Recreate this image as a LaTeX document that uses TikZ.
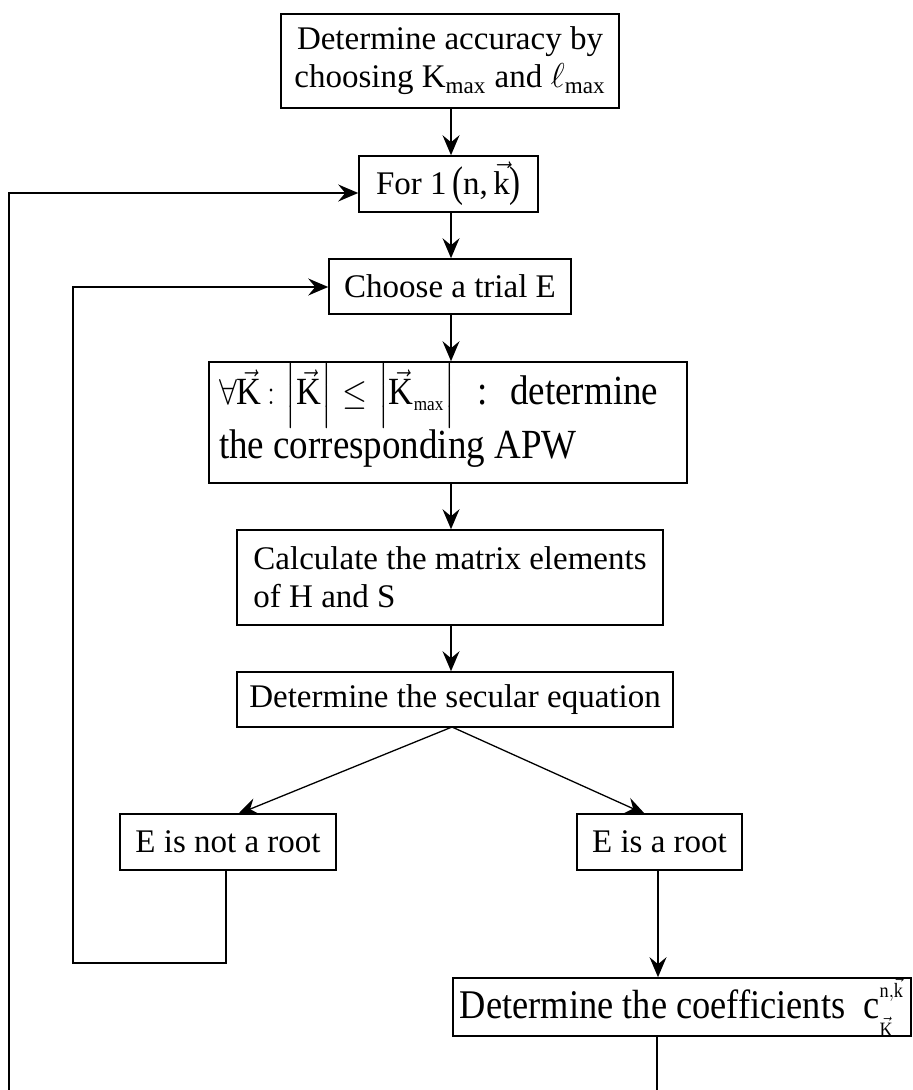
\documentclass[tikz,border=0pt]{standalone}
\usepackage{amsmath}
\usepackage{fontspec}
\setmainfont{Liberation Serif}
\usetikzlibrary{arrows.meta,calc}
\newcommand{\vK}{\vec{\text{K}}}
\newcommand{\bigpar}[1]{\raisebox{-0.07em}{\scalebox{1}[1.3]{#1}}}
\tikzset{
  box/.style={draw, line width=0.8pt, inner sep=0pt, font=\fontsize{16.5}{19}\selectfont},
  arr/.style={-{Stealth[length=10pt,width=8.5pt,inset=3.5pt]}, line width=0.65pt},
  plain/.style={line width=0.65pt}
}
\begin{document}
\begin{tikzpicture}[x=0.5pt,y=-0.5pt]
\useasboundingbox (0,0) rectangle (912,1090);

\node[box, minimum width=169pt, minimum height=47pt, align=center] (top) at (450,61)
  {Determine accuracy by\\choosing K$_{\text{max}}$ and $\ell_{\text{max}}$};
\node[box, minimum width=89.5pt, minimum height=28pt] (for) at (448.5,184)
  {For 1\,\bigpar{(}n,\,$\vec{\text{k}}$\bigpar{)}};
\node[box, minimum width=121pt, minimum height=27.5pt] (choose) at (450,286.5)
  {Choose a trial E};
\node[box, minimum width=239pt, minimum height=60.5pt, align=left,
      font=\fontsize{18.5}{26.5}\selectfont] (apw) at (448,422.5)
  {\makebox[229pt][l]{\rule{0pt}{9pt}\smash{\scalebox{1}[1.12]{\resizebox{118pt}{!}{$\forall\vK\,{:}\,\left|\vK\right|\,{\le}\,\left|\vK_{\scriptscriptstyle\text{max}}\right|$}\hspace{11pt}:\hspace{11.5pt}determine}}}\\
   \smash{\scalebox{1}[1.12]{the corresponding APW}}};
\node[box, minimum width=213pt, minimum height=47.5pt, align=left] (calc) at (450,577.5)
  {Calculate the matrix elements\\of H and S};
\node[box, minimum width=218pt, minimum height=27.5pt] (sec) at (455,699.5)
  {Determine the secular equation};
\node[box, minimum width=108pt, minimum height=28pt] (nr) at (228,842)
  {E is not a root};
\node[box, minimum width=82.5pt, minimum height=28pt] (rt) at (659.5,842)
  {E is a root};
\node[box, minimum width=229pt, minimum height=27pt, font=\fontsize{18.2}{20}\selectfont] (coef) at (682,1007)
  {\scalebox{1}[1.12]{Determine the coefficients\ \ $\text{c}^{\raisebox{3pt}{$\scriptscriptstyle\text{n},\vec{\text{k}}$}}_{\raisebox{-3.5pt}{$\scriptscriptstyle\vK$}}$}};

\coordinate (colM) at (451,0);
\coordinate (split) at (452,727);
\coordinate (nrIn) at (238,814);
\coordinate (rtIn) at (645,814);
\coordinate (colR) at (658,0);
\coordinate (L1) at (226,963);
\coordinate (L2) at (73,963);
\coordinate (L3) at (73,287);
\coordinate (O1) at (9,1090);
\coordinate (O2) at (9,193);
\coordinate (B1) at (657,1090);

\draw[arr] (top.south -| colM) -- (for.north -| colM);
\draw[arr] (for.south -| colM) -- (choose.north -| colM);
\draw[arr] (choose.south -| colM) -- (apw.north -| colM);
\draw[arr] (apw.south -| colM) -- (calc.north -| colM);
\draw[arr] (calc.south -| colM) -- (sec.north -| colM);
\draw[arr] (split) -- (nrIn);
\draw[arr] (split) -- (rtIn);
\draw[arr] (nr.south -| L1) -- (L1) -- (L2) -- (L3) -- (choose.west |- L3);
\draw[arr] (rt.south -| colR) -- (coef.north -| colR);
\draw[plain] (coef.south -| B1) -- (B1);
\draw[arr] (O1) -- (O2) -- (for.west |- O2);
\end{tikzpicture}
\end{document}
